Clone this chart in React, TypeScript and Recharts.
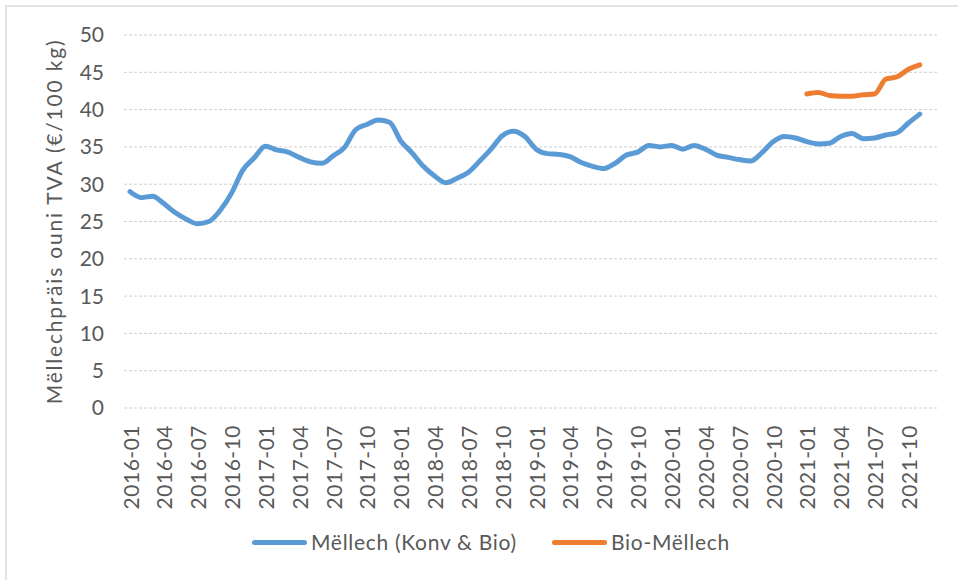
import { CartesianGrid, Label, Line, LineChart, XAxis, YAxis } from "recharts";

const years = [2016, 2017, 2018, 2019, 2020, 2021];
const monthNames = ["01", "02", "03", "04", "05", "06", "07", "08", "09", "10", "11", "12"];

// Mëllech (Konv & Bio), 2016-01 .. 2021-11
const konvBio = [
  29.0, 28.2, 28.4, 27.4, 26.2, 25.3, 24.7, 25.0, 26.5, 28.8,
  31.9, 33.5, 35.1, 34.6, 34.3, 33.6, 33.0, 32.8, 33.8, 34.9,
  37.3, 38.0, 38.6, 38.3, 35.8, 34.2, 32.4, 31.1, 30.2, 30.8,
  31.6, 33.1, 34.7, 36.5, 37.1, 36.4, 34.7, 34.1, 34.0, 33.7,
  32.9, 32.4, 32.1, 32.8, 33.9, 34.3, 35.2, 35.0, 35.2, 34.7,
  35.2, 34.7, 33.9, 33.6, 33.3, 33.1, 34.2, 35.7, 36.4, 36.2,
  35.7, 35.4, 35.5, 36.4, 36.8, 36.1, 36.2, 36.6, 36.9, 38.2,
  39.4,
];

// Bio-Mëllech, 2021-01 .. 2021-11
const bioStart = "2021-01";
const bio = [42.1, 42.3, 41.9, 41.8, 41.8, 42.0, 42.1, 44.1, 44.4, 45.4, 46.0];

const yTicks = [0, 5, 10, 15, 20, 25, 30, 35, 40, 45, 50];

const months: string[] = [];
years.forEach((y) => monthNames.forEach((m) => months.push(`${y}-${m}`)));

const bioOffset = months.indexOf(bioStart);
const data = months.map((m, i) => ({
  month: m,
  konv: i < konvBio.length ? konvBio[i] : null,
  bio: i >= bioOffset && i - bioOffset < bio.length ? bio[i - bioOffset] : null,
}));

const FONT = "Lato, 'DejaVu Sans', sans-serif";
const GREY = "#595959";
const BLUE = "#5B9BD5";
const ORANGE = "#ED7D31";

const XTick = (props: any) => {
  const { x, y, payload } = props;
  return (
    <text
      x={x}
      y={y}
      transform={`rotate(-90, ${x}, ${y})`}
      textAnchor="end"
      dominantBaseline="central"
      fill={GREY}
      fontSize={21}
      fontFamily={FONT}
      letterSpacing={0.5}
    >
      {payload.value}
    </text>
  );
};

const LegendItem = ({ color, label, left }: { color: string; label: string; left: number }) => (
  <div style={{ position: "absolute", left, top: 529, display: "flex", alignItems: "center" }}>
    <div style={{ width: 55, height: 5, background: color, borderRadius: 3, marginRight: 4 }} />
    <span style={{ fontFamily: FONT, fontSize: 21, color: GREY, lineHeight: "26px", letterSpacing: 0.7 }}>
      {label}
    </span>
  </div>
);

export default function App() {
  return (
    <div style={{ position: "absolute", left: 0, top: 0, width: 958, height: 580, background: "#fff", overflow: "hidden" }}>
      <div
        style={{
          position: "absolute",
          left: 5,
          top: 5,
          width: 960,
          height: 590,
          borderTop: "2px solid #e3e3e3",
          borderLeft: "2px solid #e3e3e3",
        }}
      />
      <LineChart
        width={958}
        height={580}
        data={data}
        margin={{ top: 35, right: 21, left: 0, bottom: 72 }}
        style={{ position: "absolute", left: 0, top: 0 }}
      >
        <CartesianGrid vertical={false} stroke="#d0d0d0" strokeDasharray="3 2" />
        <XAxis
          dataKey="month"
          interval={2}
          axisLine={false}
          tickLine={false}
          tickSize={0}
          tickMargin={17}
          height={100}
          padding={{ left: 6, right: 6 }}
          tick={<XTick />}
        />
        <YAxis
          domain={[0, 50]}
          ticks={yTicks}
          axisLine={false}
          tickLine={false}
          tickSize={0}
          tickMargin={20}
          width={124}
          tick={{ fill: GREY, fontSize: 21, fontFamily: FONT }}
        >
          <Label
            value="Mëllechpräis ouni TVA (€/100 kg)"
            angle={-90}
            position="center"
            dx={-7}
            style={{ fill: GREY, fontSize: 21, fontFamily: FONT, letterSpacing: 1.8 }}
          />
        </YAxis>
        <Line
          type="monotone"
          dataKey="konv"
          stroke={BLUE}
          strokeWidth={5}
          dot={false}
          strokeLinecap="round"
          isAnimationActive={false}
        />
        <Line
          type="monotone"
          dataKey="bio"
          stroke={ORANGE}
          strokeWidth={5}
          dot={false}
          strokeLinecap="round"
          isAnimationActive={false}
        />
      </LineChart>
      <LegendItem color={BLUE} label="Mëllech (Konv & Bio)" left={252} />
      <LegendItem color={ORANGE} label="Bio-Mëllech" left={552} />
    </div>
  );
}
